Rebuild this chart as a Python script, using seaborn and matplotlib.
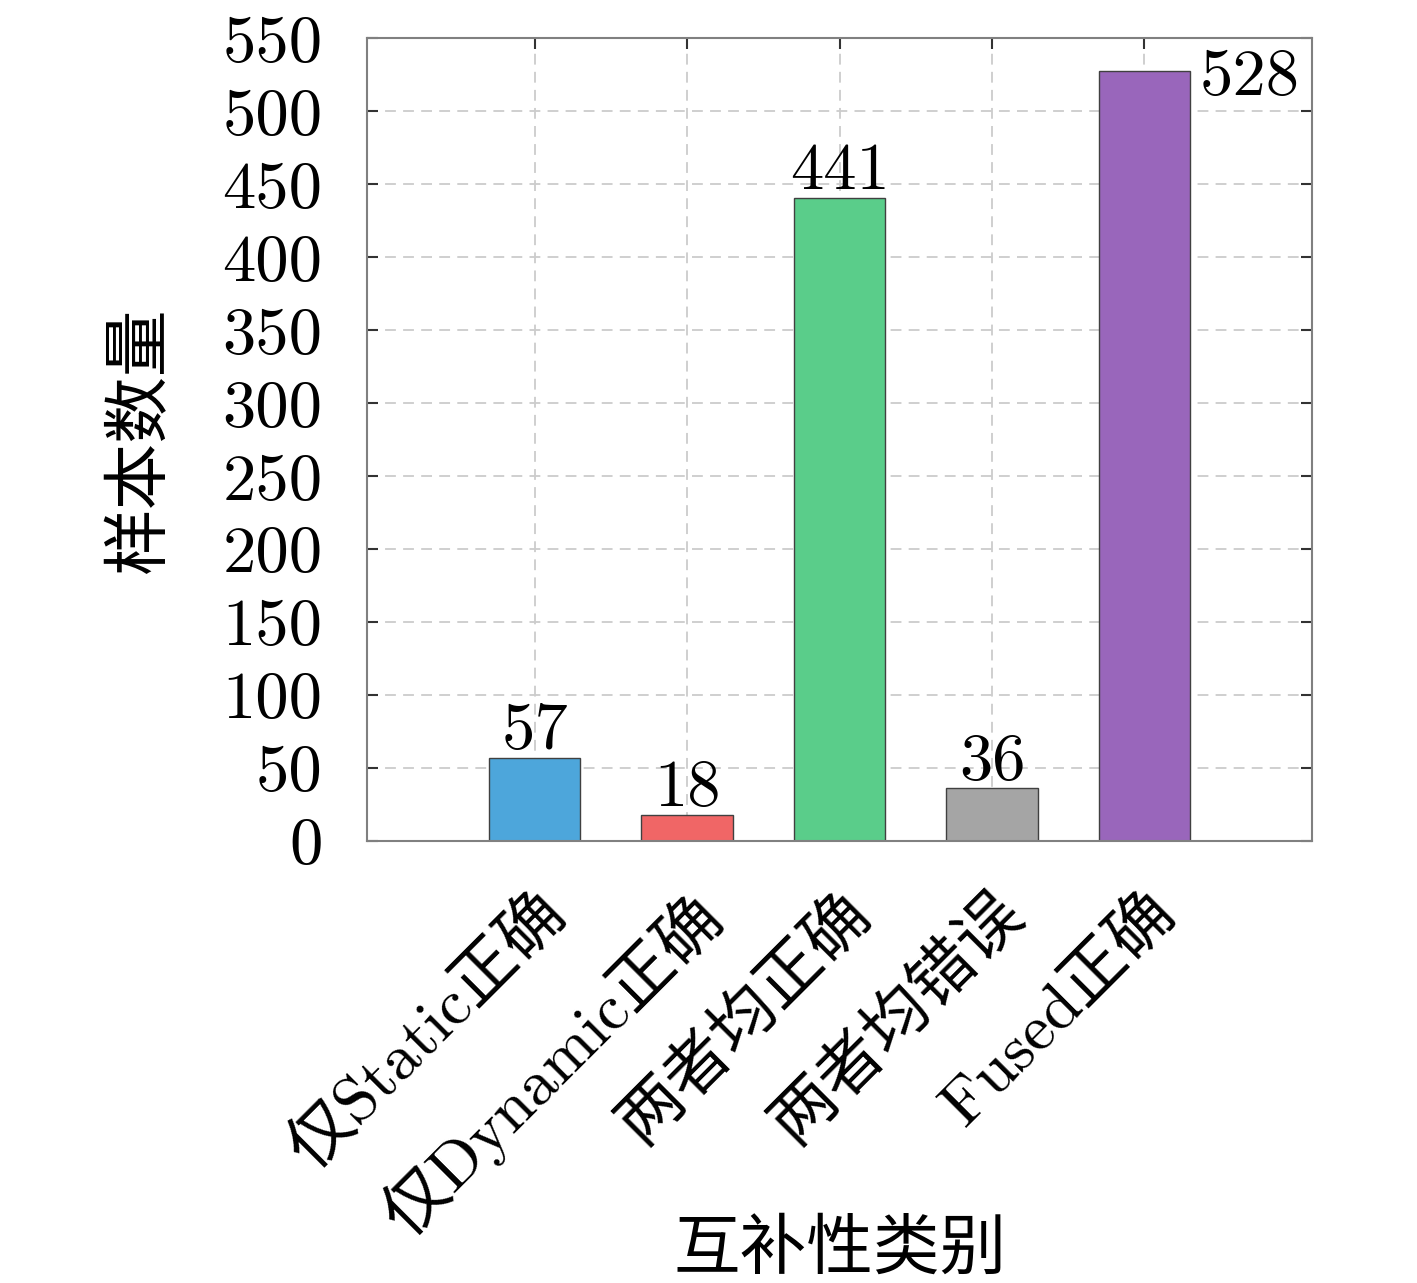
import matplotlib
matplotlib.use("Agg")
import matplotlib.pyplot as plt
import seaborn as sns
import pandas as pd

# data
categories = ['仅Static正确', '仅Dynamic正确', '两者均正确', '两者均错误', 'Fused正确']
counts = [57, 18, 441, 36, 528]
colors = ['#4DA6DB', '#F06666', '#5ACD8A', '#A5A5A5', '#9966BB']
yticks = list(range(0, 551, 50))

sns.set_theme(style="white")
plt.rcParams['font.family'] = ['cmr10', 'Noto Sans CJK SC', 'DejaVu Sans']
plt.rcParams['axes.formatter.use_mathtext'] = True
plt.rcParams['text.color'] = 'black'
plt.rcParams['axes.labelcolor'] = 'black'
plt.rcParams['xtick.labelcolor'] = 'black'
plt.rcParams['ytick.labelcolor'] = 'black'

df = pd.DataFrame({'cat': categories, 'n': counts})

fig = plt.figure(figsize=(14.17, 12.83), dpi=100)
ax = fig.add_axes([0.259, 0.3445, 0.667, 0.6255])
sns.barplot(data=df, x='cat', y='n', hue='cat', palette=colors, width=0.6,
            saturation=1, edgecolor='#404040', linewidth=1.0, legend=False, ax=ax)

ax.set_xlim(-1.1, 5.1)
ax.set_ylim(0, 550)
ax.set_yticks(yticks)
ax.set_yticklabels([str(t) for t in yticks], fontsize=48)
ax.set_xticks(range(len(categories)))
ax.set_xticklabels(categories, fontsize=47, rotation=45, ha='right',
                   va='top', rotation_mode='anchor')
ax.tick_params(axis='x', pad=30)
ax.tick_params(axis='y', pad=32)
ax.tick_params(direction='in', length=8, width=1.5, color='#333333',
               top=True, right=True, bottom=True, left=True)

ax.set_axisbelow(True)
ax.grid(True, linestyle=(0, (6, 4)), color='#CCCCCC', linewidth=1.3)
for s in ax.spines.values():
    s.set_color('#808080')
    s.set_linewidth(1.5)

ax.set_xlabel('互补性类别', fontsize=48)
ax.xaxis.set_label_coords(0.5, -0.472)
ax.set_ylabel('样本数量', fontsize=48, labelpad=36)

# value labels
for i, v in enumerate(counts):
    if i == len(counts) - 1:
        ax.text(i + 0.36, v - 5, str(v), ha='left', va='center', fontsize=48)
    else:
        ax.text(i, v - 3, str(v), ha='center', va='bottom', fontsize=48)

fig.savefig('out.png', dpi=100)
